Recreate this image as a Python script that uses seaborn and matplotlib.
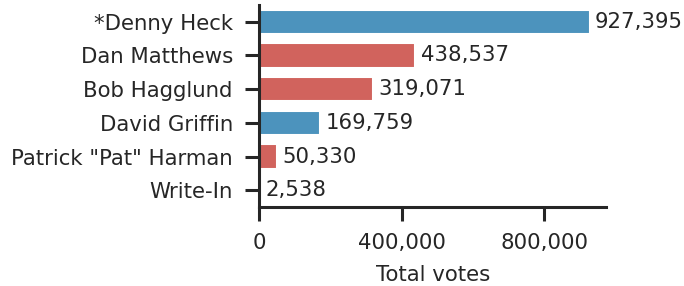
import matplotlib
matplotlib.use("Agg")
import matplotlib.pyplot as plt
import seaborn as sns
import pandas as pd

candidates = ['*Denny Heck', 'Dan Matthews', 'Bob Hagglund', 'David Griffin',
              'Patrick "Pat" Harman', 'Write-In']
votes = [927395, 438537, 319071, 169759, 50330, 2538]
party = ['D', 'R', 'R', 'D', 'R', 'Other']

df = pd.DataFrame({'candidate': candidates, 'votes': votes, 'party': party})

sns.set_theme(style="ticks", context="talk", rc={'axes.linewidth': 2.2})
plt.rcParams['font.family'] = ['DejaVu Sans']

palette = {'D': '#4c93bd', 'R': '#d1635d', 'Other': '#999999'}
fs = 15.3

fig, ax = plt.subplots(figsize=(6.84, 2.86), dpi=100)
sns.barplot(data=df, x='votes', y='candidate', hue='party', palette=palette,
            dodge=False, width=0.72, saturation=1, legend=False, ax=ax)

for c in ax.containers:
    ax.bar_label(c, labels=[f'{v:,.0f}' for v in c.datavalues], padding=4, fontsize=fs)

ax.set_xlim(0, max(votes) * 1.05)
ax.set_xticks([0, 400000, 800000])
ax.set_xticklabels(['0', '400,000', '800,000'])
ax.set_xlabel('Total votes', fontsize=fs, labelpad=8)
ax.set_ylabel('')
ax.tick_params(axis='both', labelsize=fs, length=10, width=2.2, pad=9)
sns.despine()

fig.subplots_adjust(left=0.379, right=0.886, top=0.983, bottom=0.276)
fig.savefig('out.png', dpi=100)
